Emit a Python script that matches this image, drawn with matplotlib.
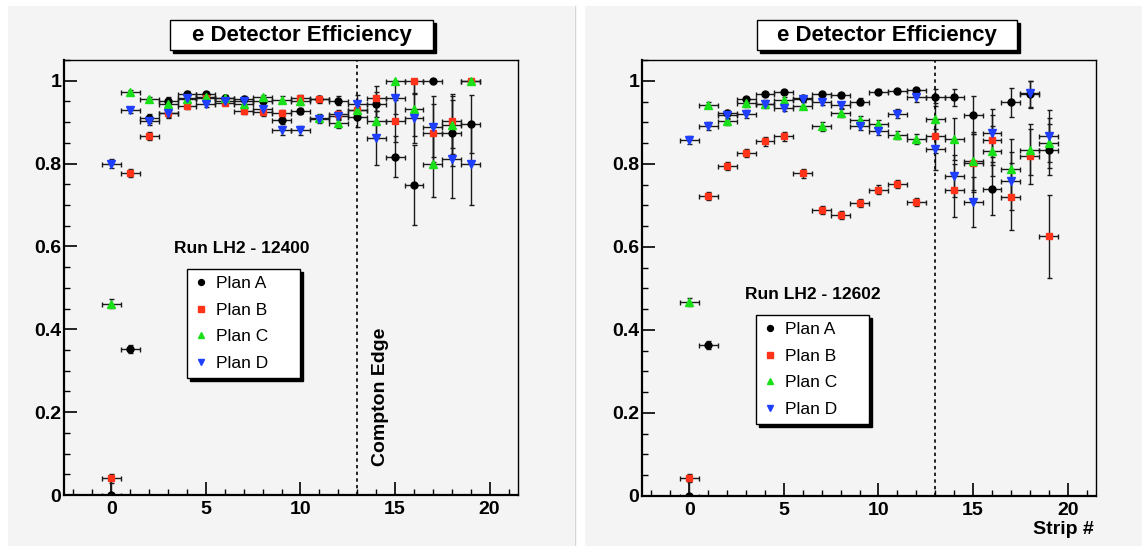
import numpy as np
import matplotlib.pyplot as plt
from matplotlib.lines import Line2D
from matplotlib.patches import Rectangle
from matplotlib.ticker import MultipleLocator, FuncFormatter

plt.rcParams['font.family'] = ['Liberation Sans', 'DejaVu Sans']

strips = np.arange(20)
strip_halfwidth = 0.5
compton_edge = 13

plans = ['Plan A', 'Plan B', 'Plan C', 'Plan D']

# Run LH2 - 12400
eff_12400_a = [0.0, 0.353, 0.909, 0.952, 0.968, 0.967, 0.959, 0.957, 0.950, 0.906,
               0.927, 0.955, 0.952, 0.913, 0.943, 0.817, 0.749, 1.000, 0.874, 0.895]
eff_12400_b = [0.040, 0.778, 0.866, 0.921, 0.939, 0.958, 0.947, 0.927, 0.924, 0.922,
               0.958, 0.956, 0.919, 0.929, 0.958, 0.903, 1.000, 0.874, 0.903, 1.000]
eff_12400_c = [0.462, 0.973, 0.955, 0.944, 0.955, 0.961, 0.959, 0.945, 0.960, 0.954,
               0.950, 0.910, 0.897, 0.930, 0.902, 1.000, 0.931, 0.798, 0.892, 1.000]
eff_12400_d = [0.800, 0.929, 0.902, 0.921, 0.959, 0.945, 0.950, 0.951, 0.932, 0.880,
               0.880, 0.908, 0.915, 0.945, 0.862, 0.959, 0.909, 0.889, 0.811, 0.799]
err_12400_a = [0.04, 0.01, 0.01, 0.008, 0.006, 0.006, 0.006, 0.006, 0.008, 0.01,
               0.008, 0.008, 0.01, 0.025, 0.03, 0.05, 0.097, 0.0, 0.08, 0.07]
err_12400_b = [0.01, 0.01, 0.01, 0.008, 0.008, 0.006, 0.006, 0.008, 0.008, 0.008,
               0.008, 0.008, 0.01, 0.02, 0.03, 0.05, 0.03, 0.07, 0.065, 0.0]
err_12400_c = [0.01, 0.005, 0.006, 0.006, 0.006, 0.006, 0.006, 0.008, 0.006, 0.008,
               0.008, 0.01, 0.01, 0.02, 0.04, 0.0, 0.065, 0.079, 0.07, 0.0]
err_12400_d = [0.01, 0.008, 0.01, 0.01, 0.006, 0.008, 0.008, 0.008, 0.008, 0.01,
               0.01, 0.01, 0.01, 0.02, 0.066, 0.04, 0.06, 0.074, 0.095, 0.1]

# Run LH2 - 12602
eff_12602_a = [0.0, 0.364, 0.922, 0.956, 0.968, 0.973, 0.958, 0.969, 0.965, 0.950,
               0.974, 0.975, 0.977, 0.960, 0.960, 0.918, 0.740, 0.948, 0.967, 0.834]
eff_12602_b = [0.044, 0.722, 0.794, 0.826, 0.854, 0.866, 0.777, 0.688, 0.677, 0.705,
               0.738, 0.752, 0.708, 0.866, 0.736, 0.801, 0.858, 0.721, 0.818, 0.626]
eff_12602_c = [0.468, 0.942, 0.902, 0.946, 0.945, 0.954, 0.940, 0.890, 0.922, 0.906,
               0.896, 0.870, 0.859, 0.907, 0.859, 0.807, 0.830, 0.788, 0.834, 0.850]
eff_12602_d = [0.858, 0.891, 0.918, 0.920, 0.943, 0.934, 0.956, 0.949, 0.942, 0.891,
               0.880, 0.921, 0.960, 0.835, 0.771, 0.709, 0.874, 0.759, 0.970, 0.867]
err_12602_a = [0.04, 0.01, 0.008, 0.006, 0.005, 0.005, 0.006, 0.005, 0.006, 0.008,
               0.006, 0.006, 0.006, 0.02, 0.02, 0.046, 0.064, 0.035, 0.032, 0.062]
err_12602_b = [0.01, 0.01, 0.01, 0.01, 0.01, 0.01, 0.01, 0.01, 0.01, 0.01,
               0.01, 0.01, 0.01, 0.04, 0.063, 0.07, 0.06, 0.08, 0.066, 0.1]
err_12602_c = [0.01, 0.006, 0.008, 0.008, 0.008, 0.008, 0.008, 0.01, 0.01, 0.01,
               0.01, 0.01, 0.012, 0.04, 0.051, 0.07, 0.06, 0.072, 0.062, 0.06]
err_12602_d = [0.01, 0.01, 0.01, 0.01, 0.008, 0.008, 0.008, 0.008, 0.008, 0.01,
               0.01, 0.01, 0.01, 0.05, 0.05, 0.06, 0.058, 0.07, 0.032, 0.063]

styles = [('o', '#000000', 5.0), ('s', '#ff3319', 5.0), ('^', '#19e019', 5.5), ('v', '#1f3fff', 5.5)]

W, H = 1142, 546
fig = plt.figure(figsize=(W / 100, H / 100), dpi=100, facecolor='white')
canvas_bg = '#f4f4f4'


def fig_rect(x0, y0, x1, y1, **kw):
    # rectangle given in pixels from the top-left corner
    fig.patches.append(Rectangle((x0 / W, 1 - y1 / H), (x1 - x0) / W, (y1 - y0) / H,
                                 transform=fig.transFigure, **kw))


# ROOT canvases
fig_rect(8, 6, 574, 546, facecolor=canvas_bg, edgecolor='none', zorder=-10)
fig_rect(585, 6, 1142, 546, facecolor=canvas_bg, edgecolor='none', zorder=-10)
fig.add_artist(Line2D([574.5 / W, 574.5 / W], [0, 540 / H], transform=fig.transFigure,
                      color='#d4d4d4', lw=1))


def draw_panel(ax, effs, errs, run_label, run_xy, legend_box):
    ax.set_facecolor(canvas_bg)
    for (m, c, ms), eff, err in zip(styles, effs, errs):
        eff = np.asarray(eff)
        err = np.asarray(err)
        yerr = [np.minimum(err, eff), np.minimum(err, 1 - eff)]
        ax.errorbar(strips, eff, xerr=strip_halfwidth, yerr=yerr, fmt=m, color=c,
                    ms=ms, mec=c, ecolor='#1a1a1a', elinewidth=1, capsize=1.8,
                    capthick=1, clip_on=True)
    ax.axvline(compton_edge, color='black', lw=1.2, linestyle=(0, (2, 2)))
    ax.set_xlim(-2.5, 21.5)
    ax.set_ylim(0, 1.05)
    ax.xaxis.set_major_locator(MultipleLocator(5))
    ax.xaxis.set_minor_locator(MultipleLocator(1))
    ax.yaxis.set_major_locator(MultipleLocator(0.2))
    ax.yaxis.set_minor_locator(MultipleLocator(0.05))
    ax.yaxis.set_major_formatter(FuncFormatter(lambda v, p: '%g' % round(v, 2)))
    ax.tick_params(which='major', direction='in', length=9.5, width=1.2,
                   labelsize=14, pad=2)
    ax.tick_params(which='minor', direction='in', length=4.5, width=1)
    ax.tick_params(axis='x', which='major', pad=4)
    for lab in ax.get_xticklabels() + ax.get_yticklabels():
        lab.set_fontweight('bold')
    ax.spines['left'].set_linewidth(1.6)
    ax.spines['bottom'].set_linewidth(1.6)
    ax.spines['top'].set_linewidth(1.0)
    ax.spines['right'].set_linewidth(1.0)

    ax.text(run_xy[0], run_xy[1], run_label, ha='center', va='center',
            fontsize=12.5, fontweight='bold')

    handles = [Line2D([], [], marker=m, color=c, linestyle='none', ms=ms * 0.85)
               for (m, c, ms) in styles]
    x0, y0, w = legend_box
    ax.legend(handles, plans, loc='upper left',
              bbox_to_anchor=(x0 / W, 1 - y0 / H, w / W, 0), bbox_transform=fig.transFigure,
              mode='expand', borderaxespad=0, fontsize=12.5, frameon=True,
              fancybox=False, framealpha=1, edgecolor='black', facecolor='white',
              shadow={'color': 'black', 'alpha': 1}, handlelength=0.8,
              handletextpad=0.45, labelspacing=0.66, borderpad=0.4)
    ax.get_legend().get_frame().set_linewidth(1)


def title_box(x0, x1, y0=20, y1=50):
    fig_rect(x0 + 3, y0 + 3, x1 + 3, y1 + 3, facecolor='black', edgecolor='black', zorder=5)
    fig_rect(x0, y0, x1, y1, facecolor='white', edgecolor='black', lw=1, zorder=6)
    fig.text((x0 + x1) / 2 / W, 1 - (y0 + y1) / 2 / H, 'e Detector Efficiency',
             ha='center', va='center', fontsize=16, fontweight='bold', zorder=7)


ax1 = fig.add_axes([64 / W, 1 - 495 / H, 454 / W, 435 / H])
draw_panel(ax1, [eff_12400_a, eff_12400_b, eff_12400_c, eff_12400_d],
           [err_12400_a, err_12400_b, err_12400_c, err_12400_d],
           'Run LH2 - 12400', (6.9, 0.594), (187, 269, 113))
ax1.text(14.21, 0.237, 'Compton Edge', rotation=90, ha='center', va='center',
         fontsize=14, fontweight='bold')

ax2 = fig.add_axes([642 / W, 1 - 496 / H, 454 / W, 436 / H])
draw_panel(ax2, [eff_12602_a, eff_12602_b, eff_12602_c, eff_12602_d],
           [err_12602_a, err_12602_b, err_12602_c, err_12602_d],
           'Run LH2 - 12602', (6.55, 0.486), (756, 315, 113))
fig.text(1094 / W, 1 - 529 / H, 'Strip #', ha='right', va='center',
         fontsize=14, fontweight='bold')

title_box(170, 433)
title_box(757, 1017)

fig.savefig('out.png', dpi=100, facecolor=fig.get_facecolor())
